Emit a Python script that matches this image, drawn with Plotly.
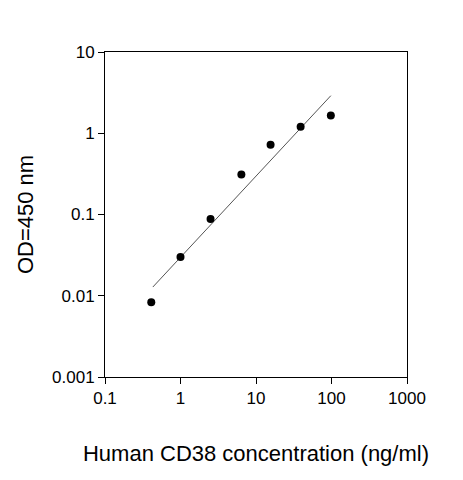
import plotly.graph_objects as go

# standard curve readings
conc = [0.41, 1.0, 2.5, 6.4, 15.6, 39, 98]
od = [0.0083, 0.030, 0.088, 0.31, 0.72, 1.2, 1.65]

# fitted line endpoints
fit_x = [0.43, 98]
fit_y = [0.0128, 2.9]

x_ticks = [0.1, 1, 10, 100, 1000]
x_labels = ["0.1", "1", "10", "100", "1000"]
y_ticks = [0.001, 0.01, 0.1, 1, 10]
y_labels = ["0.001", "0.01", "0.1", "1", "10"]

fig = go.Figure()
fig.add_trace(go.Scatter(x=fit_x, y=fit_y, mode="lines",
                         line=dict(color="#555555", width=1), hoverinfo="skip"))
fig.add_trace(go.Scatter(x=conc, y=od, mode="markers",
                         marker=dict(color="black", size=8)))

axis_common = dict(showgrid=False, zeroline=False, showline=True, mirror=True,
                   linecolor="black", linewidth=1, ticks="outside", ticklen=6,
                   tickcolor="black", tickfont=dict(size=17, color="black"))

fig.update_xaxes(type="log", range=[-1, 3], tickvals=x_ticks, ticktext=x_labels,
                 title=dict(text="Human CD38 concentration (ng/ml)", standoff=38,
                            font=dict(size=22, color="black")), **axis_common)
fig.update_yaxes(type="log", range=[-3, 1], tickvals=y_ticks, ticktext=y_labels,
                 title=dict(text="OD=450 nm", standoff=12,
                            font=dict(size=22, color="black")), **axis_common)

fig.update_layout(width=463, height=480, showlegend=False,
                  margin=dict(l=97, r=64, t=44, b=111),
                  plot_bgcolor="white", paper_bgcolor="white",
                  font=dict(family="Arial, Liberation Sans, sans-serif"))

fig.write_html("out.html")
